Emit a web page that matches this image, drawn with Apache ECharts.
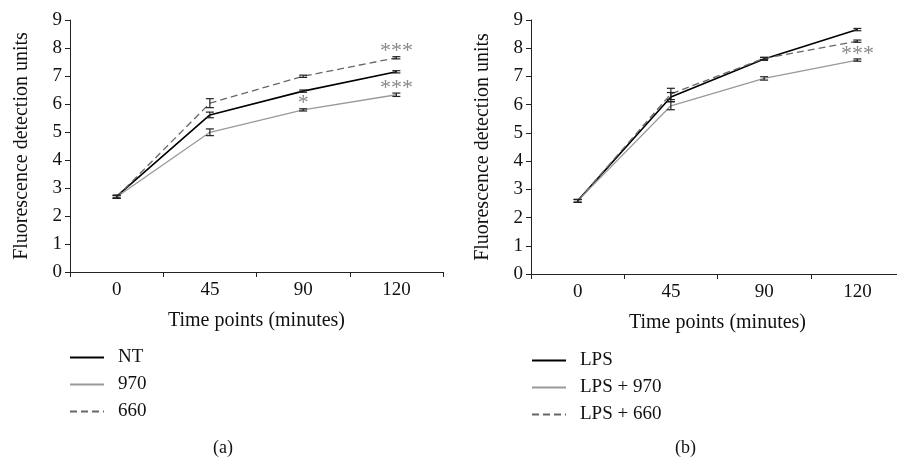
<!DOCTYPE html>
<html>
<head>
<meta charset="utf-8">
<script src="https://cdn.jsdelivr.net/npm/echarts@6/dist/echarts.min.js"></script>
<style>
  html, body { margin: 0; padding: 0; background: #fff; overflow: hidden; }
  #chart { width: 906px; height: 459px; }
</style>
</head>
<body>
<div id="chart"></div>
<script>
var timePoints = ['0', '45', '90', '120'];

// panel (a)
var ntMean = [2.70, 5.61, 6.46, 7.15];
var ntErr = [0.05, 0.10, 0.04, 0.04];
var g970Mean = [2.68, 4.99, 5.79, 6.33];
var g970Err = [0.05, 0.12, 0.04, 0.06];
var g660Mean = [2.68, 6.03, 6.99, 7.65];
var g660Err = [0.05, 0.16, 0.04, 0.04];
var starsA = [[2, 6.02, '*'], [3, 7.88, '***'], [3, 6.58, '***']];

// panel (b)
var lpsMean = [2.59, 6.27, 7.62, 8.66];
var lpsErr = [0.05, 0.16, 0.05, 0.04];
var lps970Mean = [2.59, 5.96, 6.93, 7.58];
var lps970Err = [0.05, 0.14, 0.06, 0.04];
var lps660Mean = [2.59, 6.38, 7.64, 8.25];
var lps660Err = [0.05, 0.20, 0.04, 0.04];
var starsB = [[3, 7.80, '***']];

var font = '"Liberation Serif", "DejaVu Serif", serif';
var fs = 19;

function errData(mean, err) {
  return mean.map(function (m, i) { return [i, m, err[i]]; });
}

function errSeries(mean, err, idx) {
  return {
    type: 'custom',
    xAxisIndex: idx, yAxisIndex: idx,
    silent: true, z: 5,
    data: errData(mean, err),
    renderItem: function (params, api) {
      var x = api.value(0), y = api.value(1), e = api.value(2);
      var hi = api.coord([x, y + e]);
      var lo = api.coord([x, y - e]);
      var w = 4;
      var st = { stroke: '#222', lineWidth: 1.2 };
      return {
        type: 'group',
        children: [
          { type: 'line', shape: { x1: hi[0], y1: hi[1], x2: lo[0], y2: lo[1] }, style: st },
          { type: 'line', shape: { x1: hi[0] - w, y1: hi[1], x2: hi[0] + w, y2: hi[1] }, style: st },
          { type: 'line', shape: { x1: lo[0] - w, y1: lo[1], x2: lo[0] + w, y2: lo[1] }, style: st }
        ]
      };
    }
  };
}

function lineSeries(name, mean, idx, color, width, type) {
  return {
    name: name, type: 'line',
    xAxisIndex: idx, yAxisIndex: idx,
    data: mean, symbol: 'none',
    lineStyle: { color: color, width: width, type: type },
    itemStyle: { color: color },
    z: 3
  };
}

function starSeries(stars, idx) {
  return {
    type: 'scatter', xAxisIndex: idx, yAxisIndex: idx,
    symbolSize: 0, silent: true,
    data: stars.map(function (s) { return { value: [s[0], s[1]], label: { formatter: s[2] } }; }),
    label: { show: true, position: 'inside', color: '#6a6a6a', fontFamily: font, fontSize: 22 }
  };
}

function xAx(idx) {
  return {
    type: 'category', gridIndex: idx, data: timePoints,
    boundaryGap: true,
    name: 'Time points (minutes)', nameLocation: 'middle', nameGap: 39,
    nameTextStyle: { fontFamily: font, fontSize: 20, color: '#111' },
    axisLine: { lineStyle: { color: '#222', width: 1 } },
    axisTick: { show: true, length: 5, lineStyle: { color: '#222' } },
    axisLabel: { fontFamily: font, fontSize: fs, color: '#111', margin: 9 },
    splitLine: { show: false }
  };
}

function yAx(idx) {
  return {
    type: 'value', gridIndex: idx, min: 0, max: 9, interval: 1,
    name: 'Fluorescence detection units', nameLocation: 'middle', nameGap: 38,
    nameTextStyle: { fontFamily: font, fontSize: 20, color: '#111' },
    axisLine: { show: true, lineStyle: { color: '#222', width: 1 } },
    axisTick: { show: true, length: 5, lineStyle: { color: '#222' } },
    axisLabel: { fontFamily: font, fontSize: fs, color: '#111', margin: 8 },
    splitLine: { show: false }
  };
}

function legend(names, left, top) {
  return {
    data: names, orient: 'vertical', left: left, top: top,
    itemWidth: 34, itemHeight: 10, itemGap: 8,
    itemStyle: { opacity: 0 },
    textStyle: { fontFamily: font, fontSize: fs, color: '#111', padding: [0, 0, 0, 9] },
    selectedMode: false
  };
}

var chart = echarts.init(document.getElementById('chart'));
chart.setOption({
  animation: false,
  grid: [
    { left: 70, top: 20, width: 373, height: 252 },
    { left: 531, top: 20, width: 373, height: 254 }
  ],
  xAxis: [xAx(0), xAx(1)],
  yAxis: [yAx(0), yAx(1)],
  legend: [
    legend(['NT', '970', '660'], 64, 343),
    legend(['LPS', 'LPS + 970', 'LPS + 660'], 526, 346)
  ],
  graphic: [
    { type: 'text', left: 213, top: 439, style: { text: '(a)', font: '18px ' + font, fill: '#111' } },
    { type: 'text', left: 675, top: 439, style: { text: '(b)', font: '18px ' + font, fill: '#111' } }
  ],
  series: [
    lineSeries('NT', ntMean, 0, '#000', 1.6, 'solid'),
    lineSeries('970', g970Mean, 0, '#999', 1.3, 'solid'),
    lineSeries('660', g660Mean, 0, '#666', 1.3, [7, 4]),
    errSeries(ntMean, ntErr, 0),
    errSeries(g970Mean, g970Err, 0),
    errSeries(g660Mean, g660Err, 0),
    starSeries(starsA, 0),
    lineSeries('LPS', lpsMean, 1, '#000', 1.6, 'solid'),
    lineSeries('LPS + 970', lps970Mean, 1, '#999', 1.3, 'solid'),
    lineSeries('LPS + 660', lps660Mean, 1, '#666', 1.3, [7, 4]),
    errSeries(lpsMean, lpsErr, 1),
    errSeries(lps970Mean, lps970Err, 1),
    errSeries(lps660Mean, lps660Err, 1),
    starSeries(starsB, 1)
  ]
});
</script>
</body>
</html>
